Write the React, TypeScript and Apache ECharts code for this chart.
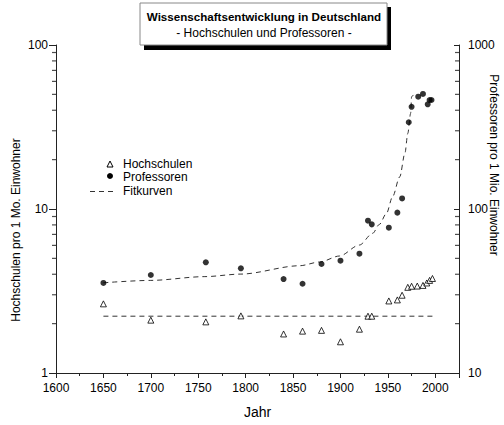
import React, { useEffect, useRef } from 'react';
import * as echarts from 'echarts';

// ---- data ----
const hochschulenYears = [1650, 1700, 1758, 1795, 1840, 1860, 1880, 1900, 1920, 1929, 1933, 1951, 1960, 1965, 1971, 1975, 1981, 1987, 1991, 1994, 1997];
const hochschulenValues = [2.64, 2.10, 2.05, 2.23, 1.73, 1.80, 1.82, 1.55, 1.85, 2.22, 2.22, 2.75, 2.79, 2.98, 3.33, 3.38, 3.39, 3.42, 3.54, 3.67, 3.77];

const professorenYears = [1650, 1700, 1758, 1795, 1840, 1860, 1880, 1900, 1920, 1929, 1933, 1951, 1960, 1965, 1972, 1975, 1982, 1987, 1992, 1994, 1996];
const professorenValues = [35.4, 39.6, 47.3, 43.5, 37.4, 35.0, 46.2, 48.4, 53.4, 84.9, 80.6, 76.9, 95, 116, 338, 420, 484, 503, 435, 462, 462];

const fitHochschulenYears = [1650, 1997];
const fitHochschulenValues = [2.22, 2.22];

const fitProfessorenYears = [1650, 1700, 1757, 1795, 1857, 1878, 1899, 1920, 1934, 1941, 1948.5, 1955, 1962.5, 1968, 1971, 1974, 1975, 1977];
const fitProfessorenValues = [35.5, 36.7, 38.7, 40.1, 45.1, 47.5, 51.7, 60.3, 71.1, 80.5, 94, 119, 157, 219, 289, 383, 484, 496];

const leftMinorTicks = [2, 3, 4, 5, 6, 7, 8, 9, 20, 30, 40, 50, 60, 70, 80, 90];
const rightMinorTicks = [20, 30, 40, 50, 60, 70, 80, 90, 200, 300, 400, 500, 600, 700, 800, 900];

const titleText = 'Wissenschaftsentwicklung in Deutschland';
const subtitleText = '- Hochschulen und Professoren -';
const legendNames = ['Hochschulen', 'Professoren', 'Fitkurven'];
const xAxisName = 'Jahr';
const leftAxisName = 'Hochschulen pro 1 Mo. Einwohner';
const rightAxisName = 'Professoren pro 1 Mio. Einwohner';

const zip = (xs: number[], ys: number[]) => xs.map((x, i) => [x, ys[i]]);

export default function App() {
  const ref = useRef<HTMLDivElement>(null);
  useEffect(() => {
    document.body.style.margin = '0';
    const chart = echarts.init(ref.current!, null, { renderer: 'svg' });
    const font = "'Liberation Sans', Arial, sans-serif";
    const axisColor = '#222';
    const dash = [5, 4];
    const plain = (v: number) => String(v);

    chart.setOption({
      animation: false,
      backgroundColor: '#fff',
      textStyle: { fontFamily: font },
      grid: { left: 56, right: 45, top: 45, bottom: 52 },
      xAxis: {
        type: 'value',
        min: 1600,
        max: 2025,
        interval: 50,
        name: xAxisName,
        nameLocation: 'middle',
        nameGap: 32,
        nameTextStyle: { fontSize: 14, color: '#000', fontFamily: font },
        axisLine: { lineStyle: { color: axisColor, width: 1 } },
        axisTick: { length: 5, lineStyle: { color: axisColor } },
        minorTick: { show: true, splitNumber: 2, length: 3, lineStyle: { color: axisColor } },
        axisLabel: { color: '#000', fontSize: 12, margin: 9, showMaxLabel: false, fontFamily: font, formatter: plain },
        splitLine: { show: false },
      },
      yAxis: [
        {
          type: 'log',
          logBase: 10,
          min: 1,
          max: 100,
          position: 'left',
          axisLine: { show: true, lineStyle: { color: axisColor, width: 1 } },
          axisTick: { show: true, length: 7, lineStyle: { color: axisColor } },
          axisLabel: { color: '#000', fontSize: 12, margin: 8, fontFamily: font, formatter: plain },
          splitLine: { show: false },
        },
        {
          type: 'log',
          logBase: 10,
          min: 10,
          max: 1000,
          position: 'right',
          axisLine: { show: true, lineStyle: { color: axisColor, width: 1 } },
          axisTick: { show: true, inside: true, length: 5, lineStyle: { color: axisColor } },
          axisLabel: { color: '#000', fontSize: 12, margin: 9, fontFamily: font, formatter: plain },
          splitLine: { show: false },
        },
      ],
      series: [
        {
          name: 'Fitkurven',
          type: 'line',
          yAxisIndex: 0,
          data: zip(fitHochschulenYears, fitHochschulenValues),
          symbol: 'none',
          lineStyle: { color: '#333', width: 1, type: dash },
        },
        {
          name: 'Fitkurven',
          type: 'line',
          yAxisIndex: 1,
          data: zip(fitProfessorenYears, fitProfessorenValues),
          symbol: 'none',
          smooth: 0.3,
          smoothMonotone: 'x',
          lineStyle: { color: '#333', width: 1, type: dash },
        },
        {
          name: 'Hochschulen',
          type: 'scatter',
          yAxisIndex: 0,
          data: zip(hochschulenYears, hochschulenValues),
          symbol: 'triangle',
          symbolSize: 6,
          itemStyle: { color: '#fff', borderColor: '#000', borderWidth: 1 },
          z: 4,
        },
        {
          name: 'Professoren',
          type: 'scatter',
          yAxisIndex: 1,
          data: zip(professorenYears, professorenValues),
          symbol: 'circle',
          symbolSize: 6,
          itemStyle: { color: '#000' },
          z: 4,
        },
        // minor ticks of the log axes (placed by the axes' own scales)
        {
          name: 'minorLeft',
          type: 'scatter',
          yAxisIndex: 0,
          silent: true,
          clip: false,
          data: leftMinorTicks.map((v) => [1600, v]),
          symbol: 'rect',
          symbolSize: [4, 1.2],
          symbolOffset: [-2, 0],
          itemStyle: { color: axisColor },
          z: 6,
        },
        {
          name: 'minorRight',
          type: 'scatter',
          yAxisIndex: 1,
          silent: true,
          clip: false,
          data: rightMinorTicks.map((v) => [2025, v]),
          symbol: 'rect',
          symbolSize: [4, 1.2],
          symbolOffset: [-2, 0],
          itemStyle: { color: axisColor },
          z: 6,
        },
      ],
      graphic: [
        // title box with shadow
        { type: 'rect', shape: { x: 144, y: 7, width: 247, height: 43 }, style: { fill: '#000' }, z: 10 },
        { type: 'rect', shape: { x: 140, y: 3, width: 247, height: 42 }, style: { fill: '#fff', stroke: '#888', lineWidth: 1 }, z: 11 },
        { type: 'text', x: 264, y: 16, z: 12, style: { text: titleText, font: `bold 11.6px ${font}`, fill: '#000', align: 'center', verticalAlign: 'middle' } },
        { type: 'text', x: 264, y: 33, z: 12, style: { text: subtitleText, font: `12px ${font}`, fill: '#000', align: 'center', verticalAlign: 'middle' } },
        // legend
        { type: 'polygon', shape: { points: [[107, 167], [110, 161], [113, 167]] }, style: { fill: '#fff', stroke: '#000', lineWidth: 1 }, z: 12 },
        { type: 'circle', shape: { cx: 110, cy: 176, r: 3 }, style: { fill: '#000' }, z: 12 },
        { type: 'line', shape: { x1: 90, y1: 191.5, x2: 117, y2: 191.5 }, style: { stroke: '#333', lineWidth: 1, lineDash: dash }, z: 12 },
        { type: 'text', x: 123, y: 164, z: 12, style: { text: legendNames[0], font: `12px ${font}`, fill: '#000', verticalAlign: 'middle' } },
        { type: 'text', x: 123, y: 176.5, z: 12, style: { text: legendNames[1], font: `12px ${font}`, fill: '#000', verticalAlign: 'middle' } },
        { type: 'text', x: 123, y: 191, z: 12, style: { text: legendNames[2], font: `12px ${font}`, fill: '#000', verticalAlign: 'middle' } },
        // axis names
        { type: 'text', x: 16, y: 230, rotation: Math.PI / 2, z: 12, style: { text: leftAxisName, font: `12px ${font}`, fill: '#000', align: 'center', verticalAlign: 'middle' } },
        { type: 'text', x: 494, y: 165, rotation: -Math.PI / 2, z: 12, style: { text: rightAxisName, font: `12px ${font}`, fill: '#000', align: 'center', verticalAlign: 'middle' } },
      ],
    });
    return () => chart.dispose();
  }, []);
  return <div ref={ref} style={{ width: 504, height: 425, position: 'fixed', left: 0, top: 0 }} />;
}
